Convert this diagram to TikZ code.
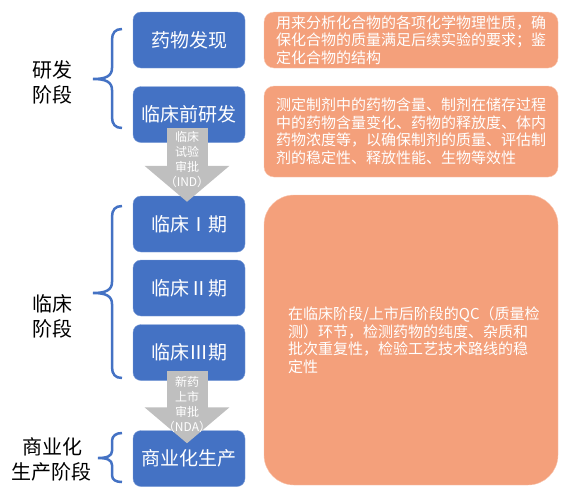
\documentclass[tikz,border=0pt]{standalone}
\usepackage{fontspec}
\setmainfont{Noto Sans CJK SC}
\usetikzlibrary{arrows.meta}
\definecolor{stageblue}{HTML}{4472C4}
\definecolor{testorange}{HTML}{F4A07B}
\definecolor{arrowgray}{HTML}{BFBFBF}

\begin{document}
\begin{tikzpicture}[x=1pt, y=-1pt,
		stepbox/.style={fill=stageblue, draw=stageblue!70!white, rounded corners=8pt, minimum width=112pt, minimum height=56pt, text=white, font=\fontsize{19}{22}\selectfont},
		testbox/.style={fill=testorange, draw=testorange!60!white, rounded corners=10pt, minimum width=294pt, text=white, align=left, inner xsep=12pt, text width=270pt, font=\fontsize{15}{17.5}\selectfont},
		passarrow/.style={-{Triangle[width=83pt,length=36pt]}, line width=41pt, arrowgray},
		passtext/.style={text=white, align=center, font=\fontsize{12}{15}\selectfont},
		stagelabel/.style={align=center, font=\fontsize{20}{25}\selectfont},
		bracket/.style={stageblue, line width=2.5pt}]
		
				\useasboundingbox (0,0) rectangle (562,499);
		
				\node [testbox, minimum height=56pt] (ana) at (411,40){用来分析化合物的各项化学物理性质，确\\保化合物的质量满足后续实验的要求；鉴\\定化合物的结构};
				\node [testbox, minimum height=91pt] (form) at (411,131.5){测定制剂中的药物含量、制剂在储存过程\\中的药物含量变化、药物的释放度、体内\\药物浓度等，以确保制剂的质量、评估制\\剂的稳定性、释放性能、生物等效性};
				\node [testbox, minimum height=290pt, rounded corners=30pt, inner xsep=24pt, text width=246pt] (qc) at (411,340){在临床阶段/上市后阶段的QC（质量检\\测）环节，检测药物的纯度、杂质和\\批次重复性，检验工艺技术路线的稳\\定性};
			
				\node [stepbox] (disc) at (189,40){药物发现};
				\node [stepbox] (pre) at (189,114.5){临床前研发};
				\node [stepbox] (ph1) at (189,224){临床Ⅰ期};
				\node [stepbox] (ph2) at (189,288){临床Ⅱ期};
				\node [stepbox] (ph3) at (189,352.5){临床Ⅲ期};
				\node [stepbox] (com) at (189,458.5){商业化生产};
			
				\draw [passarrow] ([xshift=-2pt, yshift=15pt]pre.south) -- ([xshift=-2pt, yshift=-6pt]ph1.north);
				\draw [passarrow] ([xshift=-2pt, yshift=10pt]ph3.south) -- ([xshift=-2pt, yshift=-13pt]com.north);
				\node [passtext] (ind) at (187,159.5){临床\\试验\\审批\\（IND）};
				\node [passtext] (nda) at (187,404.5){新药\\上市\\审批\\（NDA）};
			
				\node [stagelabel] (rd) at (52,82.5){研发\\阶段};
				\node [stagelabel] (clin) at (52,316){临床\\阶段};
				\node [stagelabel] (prod) at (52,459.5){商业化\\生产阶段};
			
				\draw [bracket] (122,29) .. controls (115,29) and (112,33) .. (112,40) -- (112,68) .. controls (112,76) and (106,79) .. (93,79) .. controls (106,79) and (112,82) .. (112,90) -- (112,117) .. controls (112,124) and (115,128) .. (122,128);
				\draw [bracket] (122,206) .. controls (115,206) and (112,210) .. (112,217) -- (112,282) .. controls (112,290) and (106,293) .. (93,293) .. controls (106,293) and (112,296) .. (112,304) -- (112,367) .. controls (112,374) and (115,378) .. (122,378);
				\draw [bracket] (122,433) .. controls (116,433) and (112,436) .. (112,441) -- (112,451) .. controls (112,456) and (107,458) .. (98,458) .. controls (107,458) and (112,460) .. (112,465) -- (112,475) .. controls (112,480) and (116,482) .. (122,482);
		
			\end{tikzpicture}
\end{document}
